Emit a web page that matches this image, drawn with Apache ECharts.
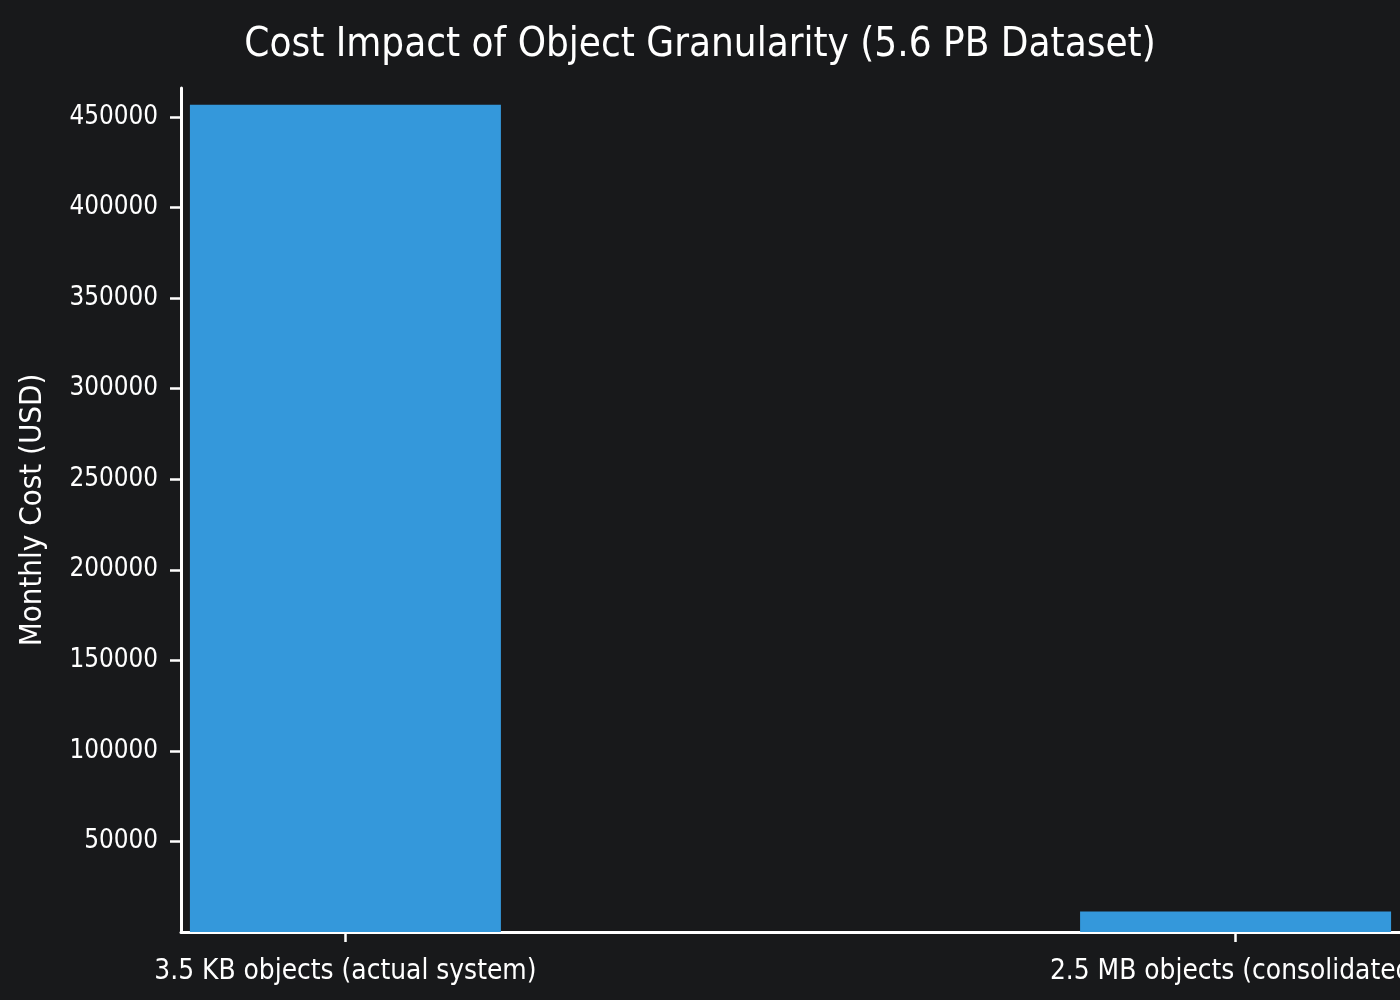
<!DOCTYPE html>
<html>
<head>
<meta charset="utf-8">
<script src="https://cdn.jsdelivr.net/npm/echarts@6/dist/echarts.min.js"></script>
<style>
html,body{margin:0;padding:0;background:#18191b;}
#chart{width:1400px;height:1000px;}
</style>
</head>
<body>
<div id="chart"></div>
<script>
const title = 'Cost Impact of Object Granularity (5.6 PB Dataset)';
const categories = ['3.5 KB objects (actual system)', '2.5 MB objects (consolidated)'];
const monthlyCost = [456700, 11300];
const yAxisName = 'Monthly Cost (USD)';

const FONT = '"DejaVu Sans Condensed", "DejaVu Sans", sans-serif';
const chart = echarts.init(document.getElementById('chart'));
chart.setOption({
  backgroundColor: '#18191b',
  animation: false,
  title: {
    text: title,
    left: 'center',
    top: 21,
    textStyle: { color: '#ffffff', fontSize: 40, fontWeight: 'normal', fontFamily: FONT }
  },
  grid: { left: 181, right: 0, top: 88, bottom: 68, containLabel: false, outerBoundsMode: 'none' },
  xAxis: {
    type: 'value',
    min: -0.1847,
    max: 1.1847,
    splitLine: { show: false },
    axisLine: { show: true, onZero: false, lineStyle: { color: '#ffffff', width: 3 } },
    axisTick: { show: true, customValues: [0, 1], length: 10, lineStyle: { color: '#ffffff', width: 2.5 } },
    axisLabel: {
      customValues: [0, 1],
      color: '#ffffff', fontSize: 27.8, fontFamily: FONT, margin: 26,
      formatter: v => categories[Math.round(v)] || ''
    }
  },
  yAxis: {
    type: 'value',
    min: 0,
    max: 466000,
    interval: 50000,
    name: yAxisName,
    nameLocation: 'middle',
    nameGap: 133,
    nameTextStyle: { color: '#ffffff', fontSize: 31, fontFamily: FONT },
    splitLine: { show: false },
    axisLine: { show: true, onZero: false, lineStyle: { color: '#ffffff', width: 3 } },
    axisTick: { show: true, length: 11, lineStyle: { color: '#ffffff', width: 2.5 } },
    axisLabel: {
      color: '#ffffff', fontSize: 25.8, fontFamily: FONT, margin: 23,
      showMinLabel: false, showMaxLabel: false,
      formatter: v => String(v)
    }
  },
  series: [{
    type: 'bar',
    barWidth: 311,
    itemStyle: { color: '#3498db' },
    data: categories.map((c, i) => [i, monthlyCost[i]])
  }]
});
</script>
</body>
</html>
